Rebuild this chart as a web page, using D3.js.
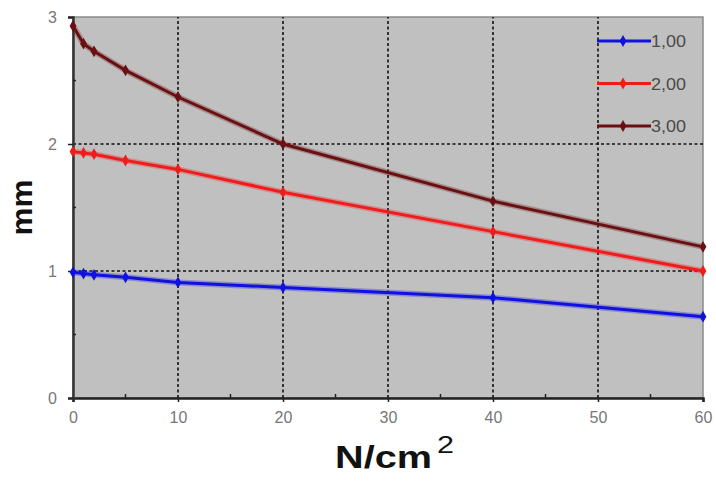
<!DOCTYPE html>
<html>
<head>
<meta charset="utf-8">
<script src="https://cdn.jsdelivr.net/npm/d3@7.9.0/dist/d3.min.js"></script>
<style>
  body { margin: 0; background: #fff; }
  svg { font-family: "Liberation Sans", Arial, sans-serif; }
</style>
</head>
<body>
<svg id="chart" width="716" height="482"></svg>
<script>
// Data
const loads = [0, 1, 2, 5, 10, 20, 40, 60];
const series1 = [0.99, 0.98, 0.97, 0.95, 0.91, 0.87, 0.79, 0.64];
const series2 = [1.94, 1.93, 1.92, 1.87, 1.80, 1.62, 1.31, 1.00];
const series3 = [2.93, 2.79, 2.73, 2.58, 2.37, 2.00, 1.55, 1.19];
const seriesNames = ["1,00", "2,00", "3,00"];
const seriesColors = ["#1010e0", "#f01c1c", "#6a0f12"];
const xTicks = [0, 10, 20, 30, 40, 50, 60];
const yTicks = [0, 1, 2, 3];

const svg = d3.select("#chart");
const margin = { left: 73, right: 13, top: 17, bottom: 84 };
const width = 716 - margin.left - margin.right;
const height = 482 - margin.top - margin.bottom;

const x = d3.scaleLinear().domain([0, 60]).range([margin.left, margin.left + width]);
const y = d3.scaleLinear().domain([0, 3]).range([margin.top + height, margin.top]);

// plot background
svg.append("rect")
  .attr("x", x(0)).attr("y", y(3))
  .attr("width", x(60) - x(0)).attr("height", y(0) - y(3))
  .attr("fill", "#c0c0c0")
  .attr("stroke", "#8a8a8a").attr("stroke-width", 1.5);

// dashed grid
const grid = svg.append("g");
grid.selectAll("line.vx").data(xTicks.filter(d => d > 0 && d < 60)).join("line")
  .attr("x1", d => x(d)).attr("x2", d => x(d))
  .attr("y1", y(0)).attr("y2", y(3))
  .attr("stroke", "#111").attr("stroke-width", 1.6).attr("stroke-dasharray", "3,2.5");
grid.selectAll("line.hy").data(yTicks.filter(d => d > 0 && d < 3)).join("line")
  .attr("x1", x(0)).attr("x2", x(60))
  .attr("y1", d => y(d)).attr("y2", d => y(d))
  .attr("stroke", "#111").attr("stroke-width", 1.6).attr("stroke-dasharray", "3,2.5");

// axes
const xAxis = svg.append("g")
  .attr("transform", `translate(0,${y(0)})`)
  .call(d3.axisBottom(x).tickValues(xTicks).tickSize(4).tickPadding(10));
xAxis.select(".domain").attr("stroke", "#222").attr("stroke-width", 2.5);
xAxis.selectAll(".tick line").attr("stroke", "#222").attr("stroke-width", 1.5);
xAxis.selectAll("text").attr("fill", "#777").attr("font-size", 16);
// minor ticks
svg.append("g").selectAll("line").data(d3.range(5, 60, 10)).join("line")
  .attr("x1", d => x(d)).attr("x2", d => x(d))
  .attr("y1", y(0)).attr("y2", y(0) - 4)
  .attr("stroke", "#222").attr("stroke-width", 1.5);

const yAxis = svg.append("g")
  .attr("transform", `translate(${x(0)},0)`)
  .call(d3.axisLeft(y).tickValues(yTicks).tickFormat(d3.format("d")).tickSize(5).tickPadding(11));
yAxis.select(".domain").attr("stroke", "#333").attr("stroke-width", 2.5);
yAxis.selectAll(".tick line").attr("stroke", "#222").attr("stroke-width", 1.5);
yAxis.selectAll("text").attr("fill", "#777").attr("font-size", 16);
svg.append("g").selectAll("line").data([0.5, 1.5, 2.5]).join("line")
  .attr("x1", x(0)).attr("x2", x(0) + 3)
  .attr("y1", d => y(d)).attr("y2", d => y(d))
  .attr("stroke", "#222").attr("stroke-width", 1.5);

// series
const allSeries = [series1, series2, series3];
const line = d3.line().x((d, i) => x(loads[i])).y(d => y(d));
const diamond = d3.symbol().type(d3.symbolDiamond).size(40);

allSeries.forEach((vals, k) => {
  const g = svg.append("g");
  g.append("path").datum(vals)
    .attr("d", line).attr("fill", "none")
    .attr("stroke", seriesColors[k]).attr("stroke-opacity", 0.3).attr("stroke-width", 6);
  g.append("path").datum(vals)
    .attr("d", line).attr("fill", "none")
    .attr("stroke", seriesColors[k]).attr("stroke-width", 3);
  g.selectAll("path.m").data(vals).join("path")
    .attr("class", "m")
    .attr("transform", (d, i) => `translate(${x(loads[i])},${y(d)})`)
    .attr("d", diamond).attr("fill", seriesColors[k]);
});

// legend
const legend = svg.append("g").attr("transform", "translate(597,41)");
seriesNames.forEach((name, k) => {
  const row = legend.append("g").attr("transform", `translate(0,${k * 42.5})`);
  row.append("line").attr("x1", 0).attr("x2", 54)
    .attr("stroke", seriesColors[k]).attr("stroke-width", 3);
  row.append("path").attr("transform", "translate(26,0)")
    .attr("d", diamond).attr("fill", seriesColors[k]);
  row.append("text").attr("x", 54).attr("y", 6)
    .attr("font-size", 17).attr("fill", "#4a4a4a")
    .attr("textLength", 35).attr("lengthAdjust", "spacingAndGlyphs")
    .text(name);
});

// axis titles
svg.append("text")
  .attr("transform", `translate(32,${(y(0) + y(3)) / 2}) rotate(-90)`)
  .attr("text-anchor", "middle")
  .attr("font-size", 30).attr("font-weight", "bold").attr("fill", "#111")
  .attr("textLength", 56).attr("lengthAdjust", "spacingAndGlyphs")
  .text("mm");

svg.append("text")
  .attr("x", 335).attr("y", 468)
  .attr("font-size", 32).attr("font-weight", "bold").attr("fill", "#111")
  .attr("textLength", 97).attr("lengthAdjust", "spacingAndGlyphs")
  .text("N/cm");
svg.append("text")
  .attr("x", 437).attr("y", 453)
  .attr("font-size", 23).attr("fill", "#111")
  .attr("textLength", 17).attr("lengthAdjust", "spacingAndGlyphs")
  .text("2");
</script>
</body>
</html>
